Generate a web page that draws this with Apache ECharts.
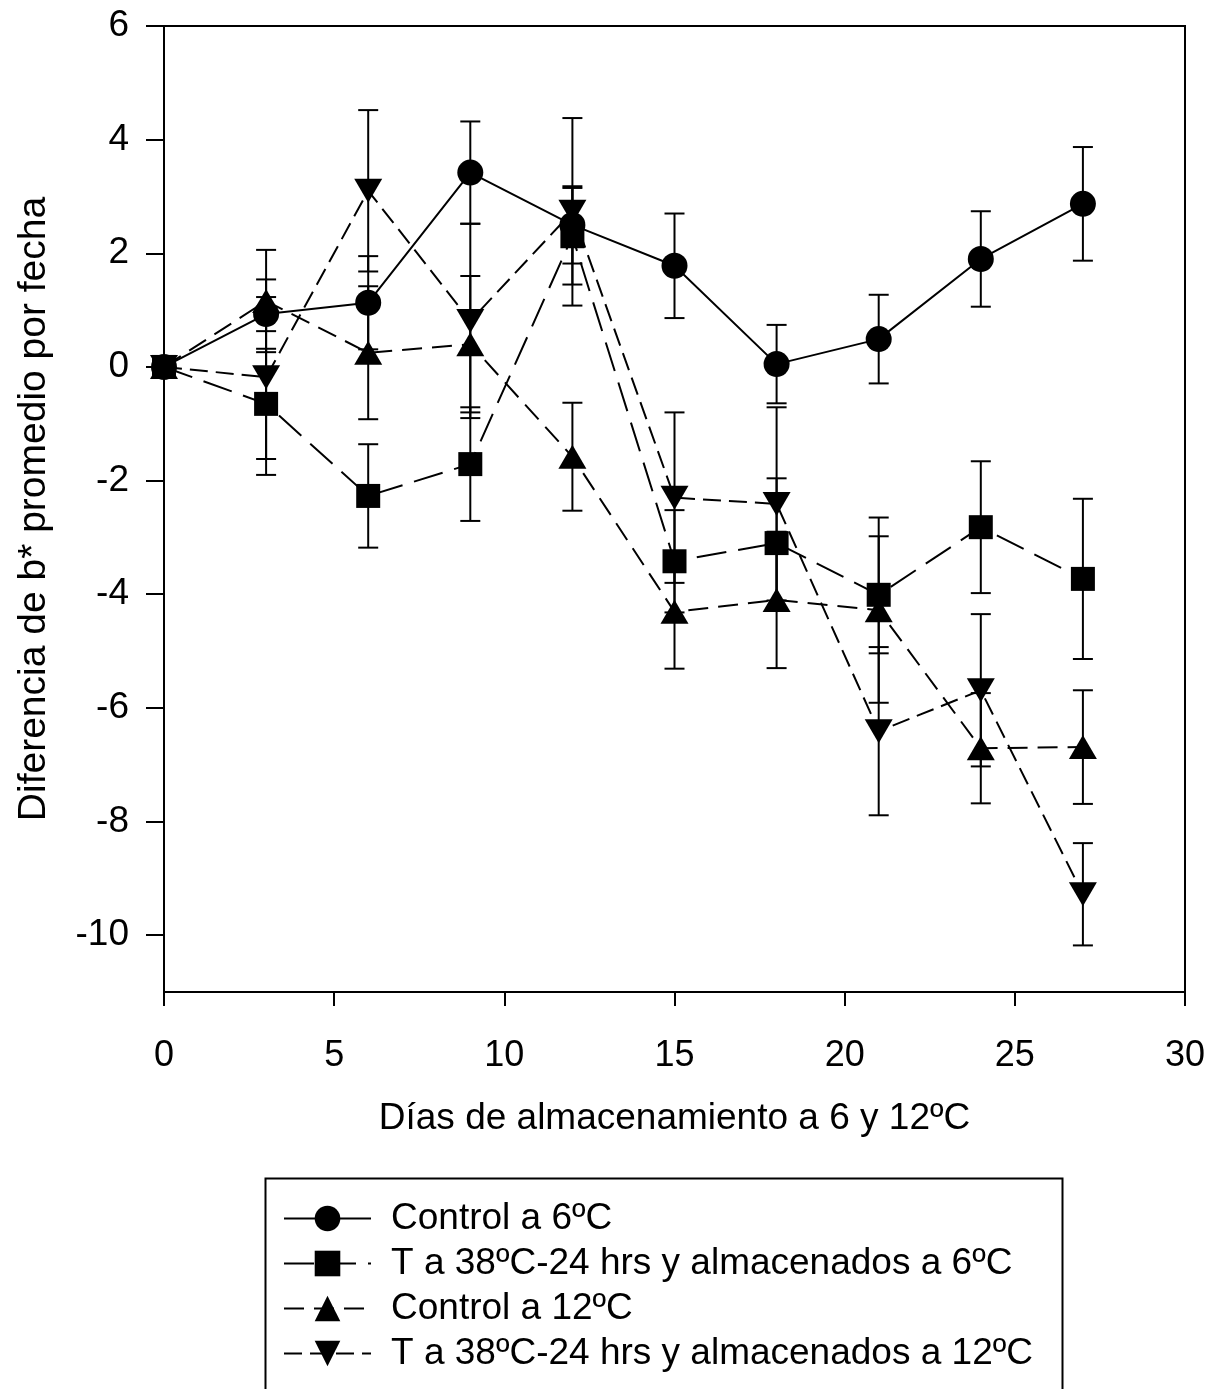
<!DOCTYPE html>
<html>
<head>
<meta charset="utf-8">
<script src="https://cdn.jsdelivr.net/npm/echarts@6/dist/echarts.min.js"></script>
<style>
html,body{margin:0;padding:0;background:#fff;}
#chart{width:1211px;height:1389px;}
</style>
</head>
<body>
<div id="chart"></div>
<script>
const days = [0, 3, 6, 9, 12, 15, 18, 21, 24, 27];
const control6 = [0, 0.93, 1.13, 3.42, 2.5, 1.78, 0.05, 0.49, 1.90, 2.87];
const control6Err = [0, 0.3, 0.82, 0.9, 0.68, 0.92, 0.69, 0.78, 0.84, 1.0];
const treated6 = [0, -0.65, -2.27, -1.71, 2.3, -3.42, -3.1, -4.01, -2.82, -3.73];
const treated6Err = [0, 0.97, 0.91, 1.0, 0.85, 0.9, 1.14, 1.03, 1.16, 1.41];
const control12 = [0, 1.16, 0.25, 0.40, -1.58, -4.31, -4.1, -4.28, -6.71, -6.69];
const control12Err = [0, 0.9, 1.17, 1.2, 0.95, 1.0, 1.2, 1.63, 0.97, 1.0];
const treated12 = [0, -0.18, 3.10, 0.81, 2.73, -2.3, -2.41, -6.41, -5.69, -9.28];
const treated12Err = [0, 1.72, 1.42, 1.71, 1.65, 1.5, 1.7, 1.48, 1.34, 0.9];
const yTicks = [-10, -8, -6, -4, -2, 0, 2, 4, 6];
const seriesNames = [
  'Control a 6ºC',
  'T a 38ºC-24 hrs y almacenados a 6ºC',
  'Control a 12ºC',
  'T a 38ºC-24 hrs y almacenados a 12ºC'
];
const xTitle = 'Días de almacenamiento a 6 y 12ºC';
const yTitle = 'Diferencia de b* promedio por fecha';

const FONT = 'Liberation Sans, Arial, Helvetica, sans-serif';
const pairs = (vals) => days.map((d, i) => [d, vals[i]]);
const errData = (vals, errs) => days.map((d, i) => [d, vals[i] - errs[i], vals[i] + errs[i], errs[i]]);

function renderErr(params, api) {
  const e = api.value(3);
  if (!e) return null;
  const x = api.value(0);
  const lo = api.coord([x, api.value(1)]);
  const hi = api.coord([x, api.value(2)]);
  const hw = 10;
  const st = {stroke: '#000', lineWidth: 2};
  return {type: 'group', children: [
    {type: 'line', shape: {x1: lo[0], y1: lo[1], x2: hi[0], y2: hi[1]}, style: st},
    {type: 'line', shape: {x1: lo[0] - hw, y1: lo[1], x2: lo[0] + hw, y2: lo[1]}, style: st},
    {type: 'line', shape: {x1: hi[0] - hw, y1: hi[1], x2: hi[0] + hw, y2: hi[1]}, style: st}
  ]};
}

const errSeries = (vals, errs) => ({
  type: 'custom', renderItem: renderErr, data: errData(vals, errs),
  encode: {x: 0, y: [1, 2]}, z: 1, silent: true
});

const lineSeries = (name, vals, symbol, size, dash, z) => ({
  name: name, type: 'line', data: pairs(vals),
  symbol: symbol, symbolSize: size, showSymbol: true,
  lineStyle: {color: '#000', width: 2, type: dash},
  itemStyle: {color: '#000', borderWidth: 0},
  z: z, animation: false
});

const chart = echarts.init(document.getElementById('chart'), null, {renderer: 'canvas'});
chart.setOption({
  backgroundColor: '#fff',
  animation: false,
  grid: {left: 164, right: 26, top: 26, bottom: 397, show: true, borderColor: '#000', borderWidth: 2, backgroundColor: 'transparent'},
  xAxis: {
    type: 'value', min: 0, max: 30, interval: 5,
    name: xTitle, nameLocation: 'middle', nameGap: 108,
    nameTextStyle: {fontFamily: FONT, fontSize: 37, color: '#000'},
    axisLine: {show: true, onZero: false, lineStyle: {color: '#000', width: 2}},
    axisTick: {show: true, inside: false, length: 14, lineStyle: {color: '#000', width: 2}},
    axisLabel: {fontFamily: FONT, fontSize: 36, color: '#000', margin: 46},
    splitLine: {show: false}
  },
  yAxis: {
    type: 'value', min: -11, max: 6,
    name: yTitle, nameLocation: 'middle', nameGap: 110, nameRotate: 90,
    nameTextStyle: {fontFamily: FONT, fontSize: 39, color: '#000'},
    axisLine: {show: true, onZero: false, lineStyle: {color: '#000', width: 2}},
    axisTick: {show: true, inside: false, length: 18, customValues: yTicks, lineStyle: {color: '#000', width: 2}},
    axisLabel: {fontFamily: FONT, fontSize: 37, color: '#000', margin: 35, customValues: yTicks},
    splitLine: {show: false}
  },
  graphic: [{
    type: 'rect', left: 263, top: 1176, silent: true,
    shape: {width: 797, height: 240},
    style: {fill: 'none', stroke: '#000', lineWidth: 2}
  }],
  legend: {
    orient: 'vertical', left: 283, top: 1196,
    data: seriesNames,
    padding: 0,
    itemGap: 0, itemWidth: 87, itemHeight: 32,
    textStyle: {fontFamily: FONT, fontSize: 37, color: '#000', lineHeight: 45, padding: [0, 0, 0, 15]},
    selectedMode: false
  },
  series: [
    errSeries(control6, control6Err),
    errSeries(treated6, treated6Err),
    errSeries(control12, control12Err),
    errSeries(treated12, treated12Err),
    lineSeries(seriesNames[0], control6, 'circle', 26, 'solid', 5),
    lineSeries(seriesNames[1], treated6, 'rect', 24, [30, 12], 4),
    lineSeries(seriesNames[2], control12, 'triangle', [28, 24], [20, 10], 3),
    lineSeries(seriesNames[3], treated12, 'path://M0,0L2,0L1,1.7Z', [28, 24], [18, 8], 6)
  ]
});
</script>
</body>
</html>
